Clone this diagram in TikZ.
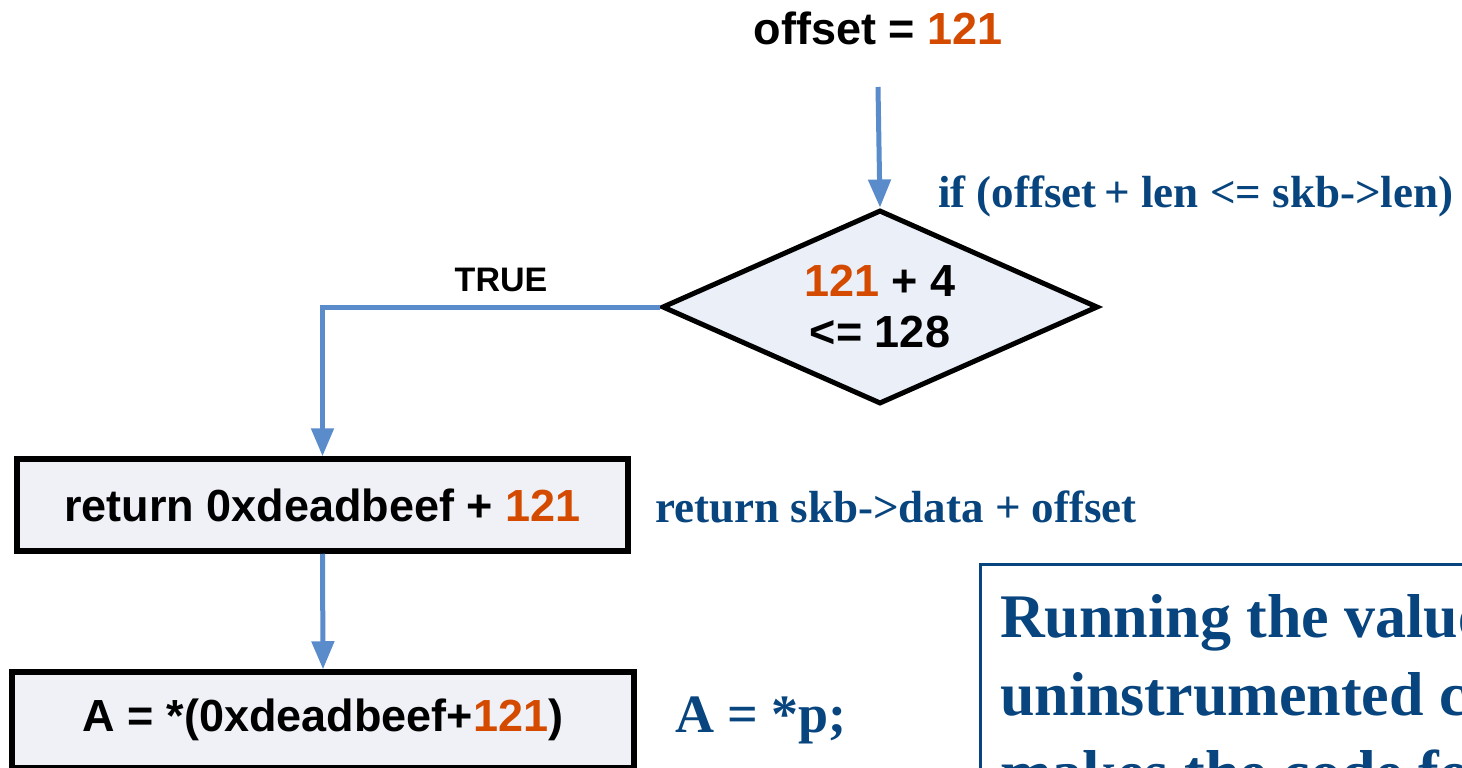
\documentclass[tikz,border=0pt]{standalone}
\usepackage{fontspec}
\setmainfont{Liberation Sans}
\newfontfamily\tnr{Liberation Serif}
\usetikzlibrary{shapes.geometric,arrows.meta}
\definecolor{arrowblue}{HTML}{5A8BCB}
\definecolor{numorange}{HTML}{D44B00}
\definecolor{codeblue}{HTML}{08457E}
\definecolor{boxfill}{HTML}{EFF1F7}
\definecolor{diafill}{HTML}{EAEFF8}
\tikzset{
  flow/.style={draw=arrowblue, line width=5pt, -{Triangle[width=22pt,length=28pt]}},
  stepbox/.style={draw=black, line width=5.5pt, fill=boxfill, rectangle, inner sep=0pt,
    font=\fontsize{45}{54}\selectfont\bfseries},
  decision/.style={draw=black, line width=5pt, fill=diafill, diamond, aspect=2.247, inner sep=0pt,
    minimum width=436pt, minimum height=194pt, align=center,
    font=\fontsize{45}{53}\selectfont\bfseries},
  codenote/.style={text=codeblue, font=\tnr\bfseries\fontsize{45}{54}\selectfont, inner sep=0pt},
  bignote/.style={text=codeblue, font=\tnr\bfseries\fontsize{62}{78}\selectfont, inner sep=0pt, anchor=base west},
}
\newcommand{\num}[1]{\textcolor{numorange}{#1}}
\begin{document}
\begin{tikzpicture}[x=1pt,y=-1pt]
\useasboundingbox (0,0) rectangle (1462,768);
\clip (0,0) rectangle (1462,768);
\fill[white] (0,0) rectangle (1462,768);

\node[font=\fontsize{45}{54}\selectfont\bfseries, inner sep=0pt] (start) at (878,28) {offset = \num{121}};
\coordinate (s0) at (878,87);

\node[decision] (cond) at (880,307) {\num{121} + 4\\[-2pt] <= 128};
\node[codenote, anchor=west] (condnote) at (938,196) {if (offset\,+ len <= skb->len)};

\node[font=\fontsize{34}{40}\selectfont\bfseries, inner sep=0pt] (truel) at (501,280) {TRUE};

\node[stepbox, minimum width=611pt, minimum height=92pt] (ret) at (322.5,505) {return 0xdeadbeef + \num{121}};
\node[codenote, anchor=west] (retnote) at (655,507) {return skb->data + offset};

\node[stepbox, minimum width=622pt, minimum height=96pt] (load) at (323,720) {A = *(0xdeadbeef+\num{121})};
\node[codenote, anchor=west, font=\tnr\bfseries\fontsize{54}{60}\selectfont] (loadnote) at (675,720) {A = *p;};

\draw[flow] (s0) -- (cond.north);
\draw[flow] (cond.west) -| (ret.north);
\draw[flow] (ret.south) -- (load.north);

\node[draw=codeblue, line width=3pt, rectangle, anchor=north west, minimum width=700pt, minimum height=400pt, inner sep=0pt] (remark) at (979,563) {};
\node[bignote] (r1) at (1000,637) {Running the value};
\node[bignote] (r2) at (1000,715) {uninstrumented code};
\node[bignote] (r3) at (1000,793) {makes the code follow};
\end{tikzpicture}
\end{document}
